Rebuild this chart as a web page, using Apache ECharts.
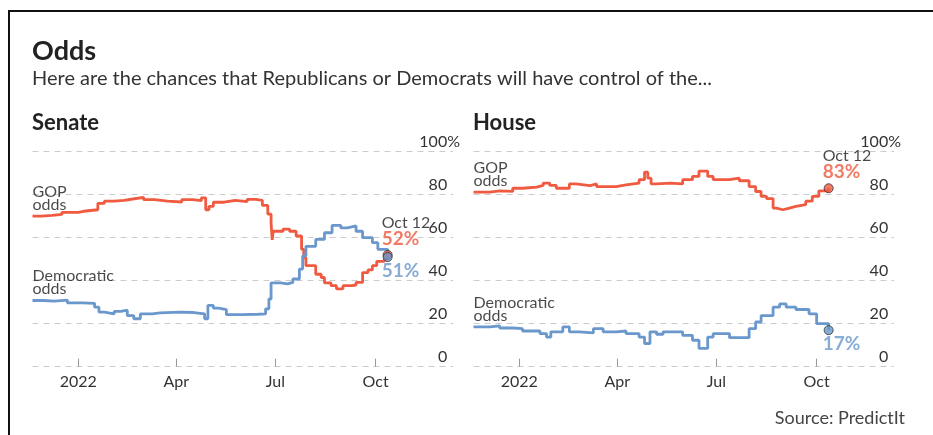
<!DOCTYPE html>
<html>
<head>
<meta charset="utf-8">
<script src="https://cdn.jsdelivr.net/npm/echarts@6/dist/echarts.min.js"></script>
<style>
html,body{margin:0;padding:0;background:#fff;}
#chart{width:933px;height:435px;}
</style>
</head>
<body>
<div id="chart"></div>
<script>
// ---------- DATA ----------
const tickDates = ['2022-01-01', '2022-04-01', '2022-07-01', '2022-10-01'];
const tickLabels = ['2022', 'Apr', 'Jul', 'Oct'];
const yTicks = [0, 20, 40, 60, 80, 100];

const senateGOP = [
  ['2021-11-20',70],['2021-11-28',70.4],['2021-12-08',70.8],['2021-12-17',71.8],['2022-01-01',72.3],
  ['2022-01-06',73],['2022-01-19',76],['2022-01-25',77],['2022-02-03',77.4],['2022-02-12',78],
  ['2022-02-20',78.8],['2022-03-02',77.7],['2022-03-12',77],['2022-03-24',76.6],['2022-04-06',77.7],
  ['2022-04-16',77.2],['2022-04-24',78.5],['2022-04-28',73],['2022-05-01',74.6],['2022-05-05',76.5],
  ['2022-05-15',77.4],['2022-05-25',76.8],['2022-06-05',77.8],['2022-06-13',77.4],['2022-06-19',75],
  ['2022-06-24',71],['2022-06-27',67],['2022-06-28',59],['2022-06-29',63],['2022-07-08',64],
  ['2022-07-14',63],['2022-07-20',60.8],['2022-07-25',54.6],['2022-07-27',50.8],['2022-07-29',47],
  ['2022-08-07',43],['2022-08-12',41.5],['2022-08-15',39],['2022-08-21',37.7],['2022-08-26',36.2],
  ['2022-09-01',37.7],['2022-09-09',38],['2022-09-13',39.2],['2022-09-19',43.8],['2022-09-24',45],
  ['2022-09-28',47],['2022-10-02',49],['2022-10-09',50],['2022-10-12',52]
];
const senateDem = [
  ['2021-11-20',30.8],['2021-11-30',30.5],['2021-12-10',31],['2021-12-22',29.7],['2022-01-05',29.5],
  ['2022-01-16',27.7],['2022-01-20',25.4],['2022-01-25',24.6],['2022-02-03',25.7],['2022-02-09',26.3],
  ['2022-02-15',23.8],['2022-02-21',22.3],['2022-02-27',24.6],['2022-03-10',25],['2022-03-17',25.4],
  ['2022-04-05',25.2],['2022-04-17',24.6],['2022-04-27',22.3],['2022-04-30',28.5],['2022-05-05',27.2],
  ['2022-05-10',26.5],['2022-05-17',24.2],['2022-06-01',24.4],['2022-06-15',24.6],['2022-06-22',26.9],
  ['2022-06-25',31.5],['2022-06-27',39],['2022-07-06',38.5],['2022-07-12',39.2],['2022-07-17',40.8],
  ['2022-07-23',45.4],['2022-07-26',51.5],['2022-07-29',56],['2022-08-07',59.2],['2022-08-15',62.3],
  ['2022-08-22',65.7],['2022-08-30',64.6],['2022-09-05',65.5],['2022-09-13',63],['2022-09-19',60],
  ['2022-09-28',57.7],['2022-10-03',54.6],['2022-10-12',51]
];
const houseGOP = [
  ['2021-11-20',81.2],['2021-12-05',81.8],['2021-12-14',81.5],['2021-12-26',83],['2022-01-04',83.5],
  ['2022-01-17',84.3],['2022-01-23',85.4],['2022-01-29',84.3],['2022-02-04',83],['2022-02-16',85],
  ['2022-02-22',84.2],['2022-03-07',85],['2022-03-13',83.8],['2022-03-31',84.6],['2022-04-09',85.4],
  ['2022-04-21',87],['2022-04-26',90.5],['2022-04-29',87.7],['2022-05-02',85],['2022-05-07',85.4],
  ['2022-05-20',85],['2022-05-31',87],['2022-06-09',88.5],['2022-06-15',91],['2022-06-23',88.5],
  ['2022-06-28',87],['2022-07-13',87.7],['2022-07-22',86.5],['2022-07-31',83.8],['2022-08-06',81.5],
  ['2022-08-11',79.2],['2022-08-16',78.2],['2022-08-22',73.8],['2022-08-25',73],['2022-08-31',73.8],
  ['2022-09-06',74.6],['2022-09-12',75.4],['2022-09-21',77],['2022-09-27',79.2],['2022-10-03',81.8],
  ['2022-10-12',83]
];
const houseDem = [
  ['2021-11-20',18.5],['2021-12-05',19],['2021-12-14',18],['2021-12-26',17.7],['2022-01-04',16.6],
  ['2022-01-20',15.4],['2022-01-26',13.8],['2022-01-30',16.2],['2022-02-10',18.5],['2022-02-16',16.2],
  ['2022-02-25',15.7],['2022-03-10',17.7],['2022-03-19',16.2],['2022-03-31',16.6],['2022-04-09',15.4],
  ['2022-04-21',13.8],['2022-04-26',10.8],['2022-05-01',16.2],['2022-05-07',15.1],['2022-05-13',16.2],
  ['2022-05-31',14.6],['2022-06-09',12.3],['2022-06-15',8.5],['2022-06-23',13.8],['2022-06-28',15.4],
  ['2022-07-13',13.5],['2022-07-31',17.7],['2022-08-06',20.8],['2022-08-11',23.8],['2022-08-22',27.7],
  ['2022-08-28',29.2],['2022-09-03',27.7],['2022-09-12',26.6],['2022-09-24',24.6],['2022-10-01',20],
  ['2022-10-12',17]
];
const lastDateLabel = 'Oct 12';
const axisMin = '2021-11-20';
const axisMax = '2022-12-11';

// ---------- STYLE ----------
const RED = '#ef5a40';
const BLUE = '#6a97cc';
const FONT = 'Lato';
const chart = echarts.init(document.getElementById('chart'), null, {renderer: 'canvas'});
const ts = s => { const p = s.split('-').map(Number); return Date.UTC(p[0], p[1] - 1, p[2]); };
const tickTs = tickDates.map(ts);

function xAxis(gridIndex) {
  return {
    type: 'value', gridIndex, min: ts(axisMin), max: ts(axisMax),
    axisLine: {show: false},
    axisTick: {show: true, inside: true, length: 8, customValues: tickTs, lineStyle: {color: '#999', width: 1}},
    axisLabel: {
      customValues: tickTs, margin: 7, fontSize: 16, color: '#333', fontFamily: FONT,
      formatter: v => { const i = tickTs.indexOf(v); return i >= 0 ? tickLabels[i] : ''; }
    },
    splitLine: {show: false}
  };
}
function yAxis(gridIndex) {
  return {
    type: 'value', gridIndex, min: 0, max: 100, interval: 20, position: 'right',
    axisLine: {show: false}, axisTick: {show: false},
    axisLabel: {
      inside: true, margin: -7, verticalAlign: 'bottom', fontSize: 16, color: '#333', fontFamily: FONT,
      formatter: v => v === 100 ? '{a|100%}' : '{a|' + v + '}{h|%}',
      rich: {a: {fontSize: 16, color: '#333', fontFamily: FONT, padding: [0, 0, 2, 0]},
             h: {fontSize: 16, color: 'rgba(0,0,0,0)', fontFamily: FONT, padding: [0, 0, 2, 0]}}
    },
    splitLine: {show: true, lineStyle: {color: '#cccccc', type: [6, 5], width: 1}}
  };
}
function stepLine(data, color, idx) {
  return {type: 'line', xAxisIndex: idx, yAxisIndex: idx, step: 'end', showSymbol: false, symbol: 'none',
    data: data.map(d => [ts(d[0]), d[1]]), lineStyle: {color, width: 2.8}, z: 3, silent: true, animation: false};
}
function nameLabel(data, text, idx) {
  return {type: 'scatter', xAxisIndex: idx, yAxisIndex: idx, symbolSize: 0, silent: true, animation: false, z: 2,
    data: [[ts(data[0][0]), data[0][1]]],
    label: {show: true, position: 'top', distance: 5, align: 'left', formatter: text,
      fontSize: 16, lineHeight: 13, color: '#1a1a1a', fontFamily: FONT}};
}
function endDot(data, color, idx, above) {
  const last = data[data.length - 1];
  const pct = Math.round(last[1]) + '%';
  return {type: 'scatter', xAxisIndex: idx, yAxisIndex: idx, symbolSize: 9, silent: true, animation: false, z: 5,
    itemStyle: {color, borderColor: '#333', borderWidth: 1},
    data: [[ts(last[0]), last[1]]],
    label: {show: true, position: above ? 'top' : 'bottom', distance: above ? 2 : 0, align: 'left', offset: [-6, 0],
      formatter: above ? '{d|' + lastDateLabel + '}\n{v|' + pct + '}' : '{v|' + pct + '}',
      rich: {d: {fontSize: 16, lineHeight: 15, color: '#1a1a1a', fontFamily: FONT},
             v: {fontSize: 19, lineHeight: 18, fontWeight: 'bold', color, fontFamily: FONT}}}};
}

const option = {
  backgroundColor: '#fff',
  animation: false,
  textStyle: {fontFamily: FONT},
  title: [
    {text: 'Odds', left: 32, top: 38, padding: 0, textStyle: {fontSize: 27, fontWeight: 'bold', color: '#222', fontFamily: FONT}},
    {text: 'Here are the chances that Republicans or Democrats will have control of the...', left: 32, top: 69, padding: 0,
     textStyle: {fontSize: 20, fontWeight: 'normal', color: '#333', fontFamily: FONT}},
    {text: 'Senate', left: 32, top: 112, padding: 0, textStyle: {fontSize: 22, fontWeight: 'bold', color: '#222', fontFamily: FONT}},
    {text: 'House', left: 473, top: 112, padding: 0, textStyle: {fontSize: 22, fontWeight: 'bold', color: '#222', fontFamily: FONT}},
    {text: 'Source: PredictIt', right: 28, top: 409, padding: 0, textStyle: {fontSize: 18, fontWeight: 'normal', color: '#444', fontFamily: FONT}}
  ],
  grid: [
    {left: 32.5, right: 480, top: 151.7, bottom: 68.3, containLabel: false},
    {left: 473.5, right: 39, top: 151.7, bottom: 68.3, containLabel: false}
  ],
  xAxis: [xAxis(0), xAxis(1)],
  yAxis: [yAxis(0), yAxis(1)],
  graphic: [
    {type: 'line', shape: {x1: 9, y1: 11, x2: 933, y2: 11}, style: {stroke: '#111', lineWidth: 2}, silent: true},
    {type: 'line', shape: {x1: 9, y1: 10, x2: 9, y2: 435}, style: {stroke: '#111', lineWidth: 2}, silent: true}
  ],
  series: [
    stepLine(senateGOP, RED, 0),
    stepLine(senateDem, BLUE, 0),
    stepLine(houseGOP, RED, 1),
    stepLine(houseDem, BLUE, 1),
    nameLabel(senateGOP, 'GOP\nodds', 0),
    nameLabel(senateDem, 'Democratic\nodds', 0),
    nameLabel(houseGOP, 'GOP\nodds', 1),
    nameLabel(houseDem, 'Democratic\nodds', 1),
    endDot(senateGOP, RED, 0, true),
    endDot(senateDem, BLUE, 0, false),
    endDot(houseGOP, RED, 1, true),
    endDot(houseDem, BLUE, 1, false)
  ]
};
chart.setOption(option);
</script>
</body>
</html>
